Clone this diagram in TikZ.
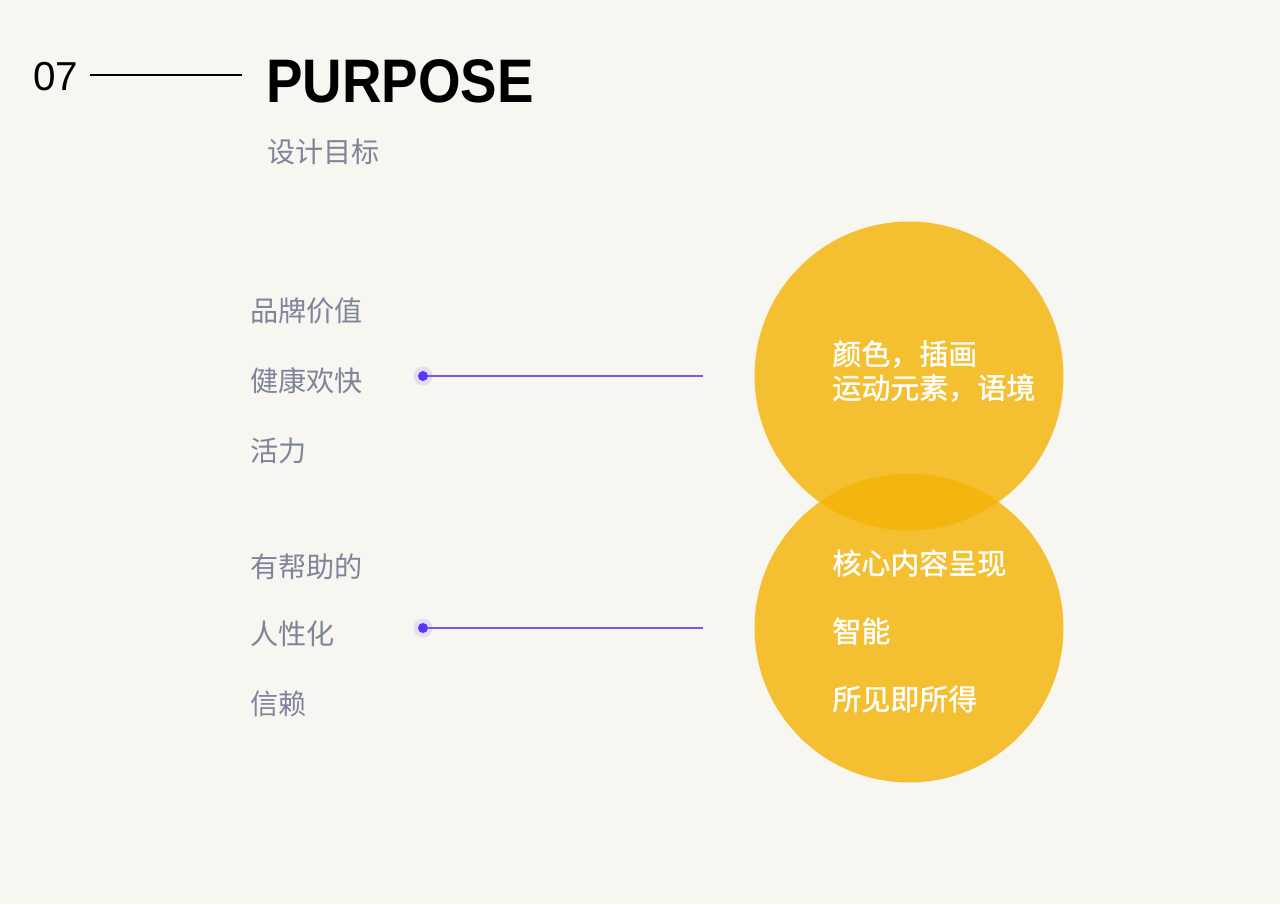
\documentclass[tikz,border=0pt]{standalone}
\usepackage{fontspec}
\setmainfont{Liberation Sans}
\newfontfamily\cjk{Noto Sans CJK SC}
\newfontfamily\cjkMedium[FakeBold=1.2]{Noto Sans CJK SC}
\newfontfamily\headFont[FakeStretch=0.89]{Liberation Sans}
\usetikzlibrary{positioning}
\definecolor{paperBg}{RGB}{247,246,241}
\definecolor{labelGray}{RGB}{126,132,154}
\definecolor{circleYellow}{RGB}{244,181,7}
\definecolor{dotPurple}{RGB}{92,52,250}
\definecolor{haloPurple}{RGB}{226,222,244}
\definecolor{linePurple}{RGB}{118,88,240}
\newcommand{\grayLabel}[3]{%%
  \node[labelStyle] (#1) at (\xLabel,#2) {#3};
}
\newcommand{\pointer}[2]{%%
  %% The halo and the dot.
  \node[haloStyle] (#1halo) at (\xDot,#2) {};
  \node[dotStyle] (#1) at (\xDot,#2) {};
  %% The line towards the circle.
  \coordinate (#1end) at (\xLineEnd,#2);
  \draw[lineStyle] (#1) -- (#1end);
}

\begin{document}
\begin{tikzpicture}[%%
  x=0.02cm,y=-0.02cm,%%
  ruleStyle/.style={-,line width=1.4pt,black},%%
  lineStyle/.style={-,line width=0.7pt,linePurple},%%
  labelStyle/.style={anchor=west,inner sep=0pt,text=labelGray,font=\cjk\fontsize{16}{19}\selectfont},%%
  innerStyle/.style={anchor=west,inner sep=0pt,align=left,text=white,font=\cjkMedium\fontsize{16.5}{19.3}\selectfont},%%
  circleStyle/.style={circle,minimum size=6.18cm,inner sep=0pt,fill=circleYellow,fill opacity=0.82},%%
  dotStyle/.style={circle,inner sep=0pt,minimum size=0.2cm,fill=dotPurple},%%
  haloStyle/.style={circle,inner sep=0pt,minimum size=0.38cm,fill=haloPurple}
]
%%
%%
\pgfmathsetmacro{\xLabel}{250}
\pgfmathsetmacro{\xDot}{423}
\pgfmathsetmacro{\xLineEnd}{703}
\pgfmathsetmacro{\xCircle}{909}
\pgfmathsetmacro{\xInner}{832}
\pgfmathsetmacro{\yTop}{376}
\pgfmathsetmacro{\yBottom}{628}
%%
%% The page.
\fill[paperBg] (0,0) rectangle (1280,904);
\useasboundingbox (0,0) rectangle (1280,904);
%%
%% The heading.
\node[anchor=west,inner sep=0pt,font=\fontsize{23}{27}\selectfont] (num) at (33,77) {07};
\coordinate (ruleStart) at (90,75);
\coordinate (ruleEnd) at (242,75);
\draw[ruleStyle] (ruleStart) -- (ruleEnd);
\node[anchor=west,inner sep=0pt,font=\headFont\bfseries\fontsize{35}{40}\selectfont] (title) at (266,81) {PURPOSE};
\node[labelStyle] (subtitle) at (267,152) {设计目标};
%%
%% The labels on the left.
\grayLabel{brand}{311}{品牌价值}
\grayLabel{healthy}{381}{健康欢快}
\grayLabel{vital}{451}{活力}
\grayLabel{helpful}{567}{有帮助的}
\grayLabel{human}{634}{人性化}
\grayLabel{trust}{704}{信赖}
%%
%% The two pointers.
\pointer{dotTop}{\yTop}
\pointer{dotBottom}{\yBottom}
%%
%% The two circles.
\node[circleStyle] (circleTop) at (\xCircle,\yTop) {};
\node[circleStyle] (circleBottom) at (\xCircle,\yBottom) {};
%%
%% The texts in the circles.
\node[innerStyle] (visual) at (\xInner,371) {颜色，插画\\运动元素，语境};
\node[innerStyle] (core) at (\xInner,563) {核心内容呈现};
\node[innerStyle] (smart) at (\xInner,631) {智能};
\node[innerStyle] (wysiwyg) at (\xInner,699) {所见即所得};
\end{tikzpicture}
\end{document}
